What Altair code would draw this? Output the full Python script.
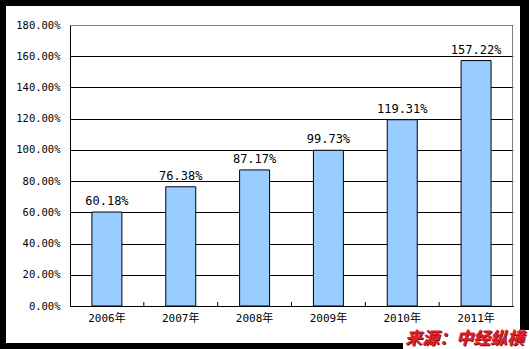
import altair as alt
import pandas as pd

years = ["2006年", "2007年", "2008年", "2009年", "2010年", "2011年"]
values = [60.18, 76.38, 87.17, 99.73, 119.31, 157.22]
y_ticks = [0, 0.2, 0.4, 0.6, 0.8, 1.0, 1.2, 1.4, 1.6, 1.8]
boundaries = [1, 2, 3, 4, 5]
source_text = "来源：中经纵横"

df = pd.DataFrame({"year": years, "rate": [v / 100 for v in values]})
bd = pd.DataFrame({"b": boundaries})
one = pd.DataFrame({"k": [0]})

MONO = "DejaVu Sans Mono, Noto Sans CJK SC"

xscale = alt.Scale(paddingInner=0.594, paddingOuter=0.297)
yscale = alt.Scale(domain=[0, 1.8], nice=False)


def yaxis():
    return alt.Axis(values=y_ticks, format=".2%", ticks=False, domainColor="black",
                    gridColor={"condition": {"test": "datum.value >= 1.79", "value": "#808080"},
                               "value": "black"},
                    labelOverlap=False, labelBound=False,
                    gridOpacity=1, labelFont=MONO, labelFontSize=10.5,
                    labelColor="black", labelPadding=10)


bars = alt.Chart(df).mark_bar(color="#99CCFF", stroke="black", strokeWidth=1).encode(
    x=alt.X("year:N", scale=xscale, sort=years, title=None,
            axis=alt.Axis(orient="bottom", labelAngle=0, ticks=False, domainColor="black",
                          labelFont=MONO, labelFontSize=11, labelColor="black",
                          labelPadding=12, labelBaseline="middle")),
    y=alt.Y("rate:Q", scale=yscale, title=None, axis=yaxis()),
)

labels = alt.Chart(df).mark_text(font=MONO, fontSize=12, color="black",
                                 baseline="alphabetic", dy=-7).encode(
    x=alt.X("year:N", scale=xscale, sort=years, axis=None),
    y=alt.Y("rate:Q", scale=yscale, title=None, axis=yaxis()),
    text=alt.Text("rate:Q", format=".2%"),
)

ticks = alt.Chart(bd).mark_rule(color="black", strokeWidth=1).encode(
    x=alt.X("b:Q", scale=alt.Scale(domain=[0, 6], nice=False, zero=False), axis=None),
    y=alt.value(277), y2=alt.value(281),
)


def frame(x1, x2, y1, y2, color):
    return alt.Chart(one).mark_rect(color=color).encode(
        x=alt.value(x1), x2=alt.value(x2), y=alt.value(y1), y2=alt.value(y2))


right_line = frame(442, 443, 0, 281, "#808080")

borders = [
    frame(-70, -64, -25, 324, "black"),
    frame(450, 459, -25, 324, "black"),
    frame(-70, 459, -25, -19, "black"),
    frame(-70, 459, 318, 324, "black"),
    frame(333, 459, 305, 324, "white"),
]

shadow = alt.Chart(one).mark_text(text=source_text, font="Noto Sans CJK SC", fontSize=17,
                                  fontWeight="bold", fontStyle="italic", color="#7a0a0a",
                                  align="left", baseline="alphabetic").encode(
    x=alt.value(336), y=alt.value(320))
src = alt.Chart(one).mark_text(text=source_text, font="Noto Sans CJK SC", fontSize=17,
                               fontWeight="bold", fontStyle="italic", color="#E0202A",
                               align="left", baseline="alphabetic").encode(
    x=alt.value(335), y=alt.value(319))

chart = alt.layer(bars, labels, ticks, right_line, *borders, shadow, src).resolve_scale(
    x="independent").properties(
    width=443, height=281,
    autosize=alt.AutoSizeParams(type="none"),
    padding={"left": 70, "top": 25, "right": 16, "bottom": 43},
    background="white",
).configure_view(stroke=None)

chart.save("out.html", embed_options={"renderer": "svg", "actions": False})
